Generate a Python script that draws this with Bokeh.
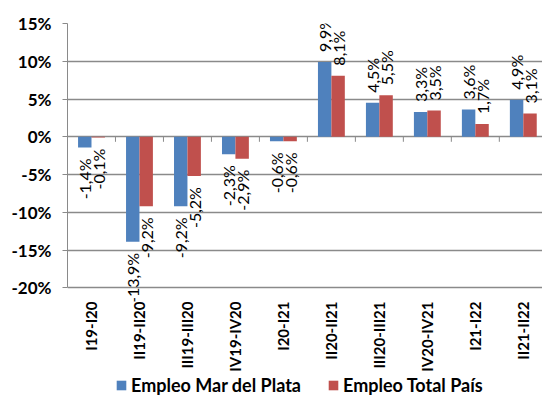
import numpy as np
from bokeh.plotting import figure
from bokeh.layouts import column
from bokeh.models import Range1d, FixedTicker, ColumnDataSource, Legend, LegendItem
from bokeh.core.properties import value
from bokeh.embed import file_html
from bokeh.resources import INLINE

categories = ["I19-I20", "II19-II20", "III19-III20", "IV19-IV20", "I20-I21",
              "II20-II21", "III20-III21", "IV20-IV21", "I21-I22", "II21-II22"]
mdp = [-1.4, -13.9, -9.2, -2.3, -0.6, 9.9, 4.5, 3.3, 3.6, 4.9]
pais = [-0.1, -9.2, -5.2, -2.9, -0.6, 8.1, 5.5, 3.5, 1.7, 3.1]
y_ticks = [-20, -15, -10, -5, 0, 5, 10, 15]
series_names = ["Empleo Mar del Plata", "Empleo Total País"]
colors = ["#4F81BD", "#C0504D"]

FONT = "Lato"
GRID = "#8a8a8a"
n = len(categories)
centers = np.arange(n) + 0.5
bw = 0.28

p = figure(width=542, height=374, output_backend="svg", toolbar_location=None,
           x_range=Range1d(0, 9.9), y_range=Range1d(-21.8, 15),
           min_border_left=67, min_border_right=0, min_border_top=23, min_border_bottom=71)
p.outline_line_color = None
p.background_fill_color = "white"
p.border_fill_color = "white"

# Axes
p.xaxis.ticker = FixedTicker(ticks=list(centers))
p.xaxis.major_label_overrides = {float(c): lab for c, lab in zip(centers, categories)}
p.xaxis.major_label_orientation = np.pi / 2
p.xaxis.axis_line_color = None
p.xaxis.major_tick_line_color = None
p.xaxis.minor_tick_line_color = None
p.xaxis.major_tick_out = 0
p.xaxis.major_label_standoff = 0
p.xaxis.major_label_text_font = FONT
p.xaxis.major_label_text_font_style = "bold"
p.xaxis.major_label_text_font_size = "15px"
p.xaxis.major_label_text_color = "black"

p.yaxis.ticker = FixedTicker(ticks=y_ticks)
p.yaxis.bounds = (min(y_ticks), max(y_ticks))
p.yaxis.major_label_overrides = {t: f"{t}%" for t in y_ticks}
p.yaxis.axis_line_color = GRID
p.yaxis.major_tick_line_color = GRID
p.yaxis.major_tick_out = 5
p.yaxis.major_tick_in = 0
p.yaxis.minor_tick_line_color = None
p.yaxis.major_label_standoff = 11
p.yaxis.major_label_text_font = FONT
p.yaxis.major_label_text_font_style = "bold"
p.yaxis.major_label_text_font_size = "17px"
p.yaxis.major_label_text_color = "black"

p.xgrid.grid_line_color = None
p.ygrid.ticker = FixedTicker(ticks=y_ticks)
p.ygrid.grid_line_color = GRID
p.ygrid.grid_line_width = 1.3

# Bars
r1 = p.vbar(x=centers - bw / 2, top=mdp, bottom=0, width=bw, fill_color=colors[0], line_color=None)
r2 = p.vbar(x=centers + bw / 2, top=pais, bottom=0, width=bw, fill_color=colors[1], line_color=None)

# zero-line category tick marks
bounds = np.arange(1, n + 1)
p.segment(x0=bounds, y0=np.zeros(n), x1=bounds, y1=np.full(n, -0.66), line_color=GRID, line_width=1)

# Data labels
for vals, off in ((mdp, -bw / 2), (pais, bw / 2)):
    xs = centers + off
    pos = [(x, v) for x, v in zip(xs, vals) if v >= 0]
    neg = [(x, v) for x, v in zip(xs, vals) if v < 0]
    for grp, align, yoff in ((pos, "left", -10), (neg, "right", 11)):
        if not grp:
            continue
        src = ColumnDataSource(dict(x=[g[0] for g in grp], y=[g[1] for g in grp],
                                    t=[f"{g[1]:.1f}%".replace(".", ",") for g in grp]))
        p.text(x="x", y="y", text="t", source=src, angle=np.pi / 2, text_align=align,
               text_baseline="middle", y_offset=yoff, text_font=value(FONT),
               text_font_size="16px", text_color="black")

# Legend strip (frame is aligned with the main plot's frame by the column layout)
lg = figure(width=542, height=22, output_backend="svg", toolbar_location=None,
            x_range=Range1d(0, 1), y_range=Range1d(0, 1),
            x_axis_location=None, y_axis_location=None,
            min_border=0, min_border_left=0, min_border_right=0, min_border_top=0, min_border_bottom=0)
lg.grid.visible = False
lg.outline_line_color = None
lg.background_fill_color = "white"
lg.border_fill_color = "white"
# legend proxies (zero height, so they draw nothing themselves)
l1 = lg.vbar(x=[0.5], top=[0], bottom=0, width=0.1, fill_color=colors[0], line_color=None)
l2 = lg.vbar(x=[0.5], top=[0], bottom=0, width=0.1, fill_color=colors[1], line_color=None)
legend = Legend(items=[LegendItem(label=series_names[0], renderers=[l1]),
                       LegendItem(label=series_names[1], renderers=[l2])],
                orientation="horizontal", location=(48, 0))
legend.label_text_font = FONT
legend.label_text_font_style = "bold"
legend.label_text_font_size = "18px"
legend.label_text_color = "black"
legend.glyph_width = 12
legend.glyph_height = 12
legend.spacing = 26
legend.label_standoff = 4
legend.padding = 0
legend.margin = 0
legend.border_line_color = None
legend.background_fill_alpha = 0
lg.add_layout(legend, "center")

layout = column(p, lg, spacing=0)
open("out.html", "w").write(file_html(layout, INLINE))
